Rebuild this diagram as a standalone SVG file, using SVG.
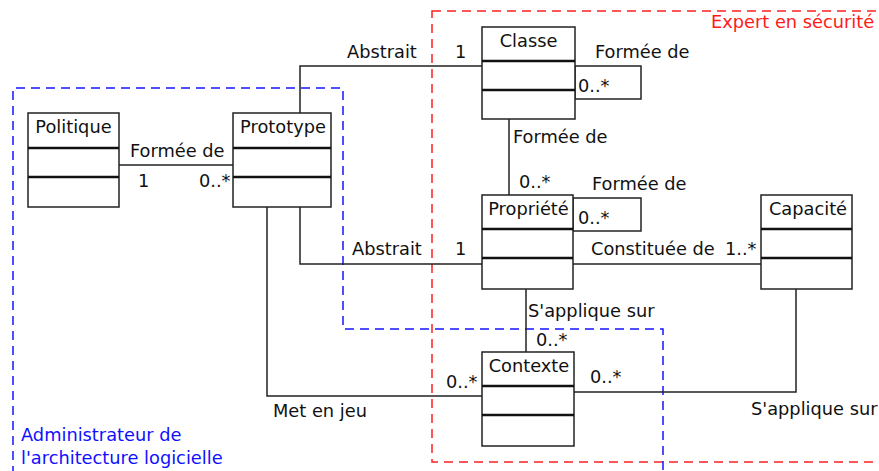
<svg xmlns="http://www.w3.org/2000/svg" width="879" height="471" viewBox="0 0 879 471">
  <style>
    text { font-family: "DejaVu Sans", "Liberation Sans", sans-serif; font-size: 17.8px; fill: #111; }
    .title { text-anchor: middle; }
    .box { fill: #fff; stroke: #222; stroke-width: 1.5; }
    .div { stroke: #111; stroke-width: 2.6; }
    .link { fill: none; stroke: #222; stroke-width: 1.5; }
    .zone-blue { fill: none; stroke: #1414ff; stroke-width: 1.5; stroke-dasharray: 9 6; }
    .zone-red { fill: none; stroke: #ff2020; stroke-width: 1.5; stroke-dasharray: 9 6; }
    .blue { fill: #1010ff; }
    .red { fill: #ff1a1a; }
  </style>

  <!-- responsibility zones -->
  <g id="zones">
    <rect class="zone-red" x="432" y="11" width="460" height="451"/>
    <path class="zone-blue" d="M13,475 V88 H343 V329 H663 V475"/>
    <text class="red" x="711" y="28">Expert en sécurité</text>
    <text class="blue" x="21" y="441">Administrateur de</text>
    <text class="blue" x="21" y="464">l'architecture logicielle</text>
  </g>

  <!-- associations -->
  <g id="connectors">
    <path class="link" d="M119,165 H233"/>
    <path class="link" d="M300,113 V66 H482"/>
    <path class="link" d="M300,207 V264 H482"/>
    <path class="link" d="M267,207 V396 H482"/>
    <path class="link" d="M509,119 V195"/>
    <path class="link" d="M573,264 H761"/>
    <path class="link" d="M526,289 V352"/>
    <path class="link" d="M574,392 H796 V289"/>
    <rect class="link" x="575" y="66" width="66" height="33"/>
    <rect class="link" x="573" y="198" width="68" height="33"/>

    <text x="130" y="157">Formée de</text>
    <text x="138" y="187">1</text>
    <text x="199" y="187">0..*</text>
    <text x="347" y="58">Abstrait</text>
    <text x="455" y="58">1</text>
    <text x="595" y="58">Formée de</text>
    <text x="578" y="92">0..*</text>
    <text x="513" y="143">Formée de</text>
    <text x="519" y="188">0..*</text>
    <text x="592" y="190">Formée de</text>
    <text x="578" y="224">0..*</text>
    <text x="352" y="255">Abstrait</text>
    <text x="455" y="255">1</text>
    <text x="591" y="255">Constituée de</text>
    <text x="725" y="255">1..*</text>
    <text x="528" y="317">S'applique sur</text>
    <text x="536" y="346">0..*</text>
    <text x="446" y="388">0..*</text>
    <text x="273" y="417">Met en jeu</text>
    <text x="590" y="383">0..*</text>
    <text x="751" y="415">S'applique sur</text>
  </g>

  <!-- classes -->
  <g id="politique">
    <rect class="box" x="28" y="113" width="91" height="94"/>
    <line class="div" x1="28" y1="148" x2="119" y2="148"/>
    <line class="div" x1="28" y1="177" x2="119" y2="177"/>
    <text class="title" x="73.5" y="133">Politique</text>
  </g>
  <g id="prototype">
    <rect class="box" x="233" y="113" width="98" height="94"/>
    <line class="div" x1="233" y1="148" x2="331" y2="148"/>
    <line class="div" x1="233" y1="177" x2="331" y2="177"/>
    <text class="title" x="283" y="133">Prototype</text>
  </g>
  <g id="classe">
    <rect class="box" x="482" y="27" width="93" height="92"/>
    <line class="div" x1="482" y1="61" x2="575" y2="61"/>
    <line class="div" x1="482" y1="90" x2="575" y2="90"/>
    <text class="title" x="528.5" y="47">Classe</text>
  </g>
  <g id="propriete">
    <rect class="box" x="482" y="195" width="91" height="94"/>
    <line class="div" x1="482" y1="229" x2="573" y2="229"/>
    <line class="div" x1="482" y1="258" x2="573" y2="258"/>
    <text class="title" x="528.5" y="215">Propriété</text>
  </g>
  <g id="capacite">
    <rect class="box" x="761" y="195" width="91" height="94"/>
    <line class="div" x1="761" y1="229" x2="852" y2="229"/>
    <line class="div" x1="761" y1="258" x2="852" y2="258"/>
    <text class="title" x="808" y="215">Capacité</text>
  </g>
  <g id="contexte">
    <rect class="box" x="482" y="352" width="92" height="94"/>
    <line class="div" x1="482" y1="386" x2="574" y2="386"/>
    <line class="div" x1="482" y1="415" x2="574" y2="415"/>
    <text class="title" x="529" y="372">Contexte</text>
  </g>
</svg>
